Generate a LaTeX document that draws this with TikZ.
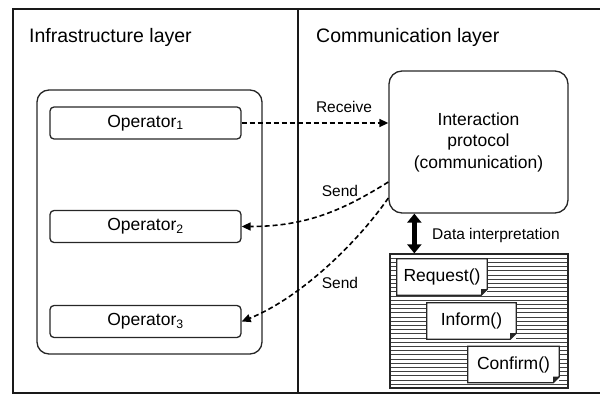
\documentclass[tikz,border=0pt]{standalone}
\usepackage{fontspec}
\setmainfont{Liberation Sans}
\usetikzlibrary{arrows.meta}
\begin{document}
\begin{tikzpicture}[x=1pt,y=-1pt,
  frameline/.style={line width=1.8pt,draw=black!90},
  opbox/.style={draw=black!85,line width=1.3pt,rounded corners=4pt,minimum width=191pt,minimum height=32pt,inner sep=0pt,font=\fontsize{17.5}{20}\selectfont},
  notebox/.style={fill=white,minimum height=36pt,inner sep=0pt,font=\fontsize{17.5}{20}\selectfont},
  lbl/.style={font=\fontsize{15.5}{18}\selectfont,inner sep=0pt},
  ttl/.style={font=\fontsize{19.5}{22}\selectfont,inner sep=0pt,anchor=west},
  dasharrow/.style={line width=1.6pt,dash pattern=on 5pt off 3pt,-{Triangle[length=9pt,width=8pt]}},
  hatchline/.style={line width=0.9pt,draw=black!75}]
\useasboundingbox (0,0) rectangle (600,396);
% layers
\draw[frameline] (602,9) -- (13,9) -- (13,393) -- (602,393);
\draw[frameline] (298,9) -- (298,393);
\node[ttl] (tinf) at (29,37) {Infrastructure layer};
\node[ttl] (tcom) at (316,37) {Communication layer};
% infrastructure container
\node[draw=black!85,line width=1.3pt,rounded corners=12pt,minimum width=225pt,minimum height=264pt] (cont) at (149.5,222) {};
\node[opbox] (op1) at (145.5,123) {Operator\textsubscript{1}};
\node[opbox] (op2) at (145.5,226.5) {Operator\textsubscript{2}};
\node[opbox] (op3) at (145.5,321.5) {Operator\textsubscript{3}};
% interaction protocol
\node[draw=black!85,line width=1.3pt,rounded corners=13pt,minimum width=179pt,minimum height=142pt,align=center,font=\fontsize{17.5}{21.5}\selectfont] (ip) at (478.5,142) {Interaction\\protocol\\(communication)};
% hatched box
\node[draw=black!85,line width=1.3pt,minimum width=178pt,minimum height=134pt,inner sep=0pt] (hb) at (479,321) {};
\foreach \i in {1,...,31}{
  \draw[hatchline] (391,{254+4.2*\i}) -- (567,{254+4.2*\i});
}
\node[notebox,minimum width=90pt] (req) at (442,277) {Request()};
\node[notebox,minimum width=89pt] (inf) at (471.5,321) {Inform()};
\node[notebox,minimum width=91pt] (con) at (513.5,364.5) {Confirm()};
\foreach \n in {req,inf,con}{
  \draw[line width=1.3pt,draw=black!85] (\n.north west) -- (\n.north east) -- ([yshift=6pt]\n.south east) -- ([xshift=-6pt]\n.south east) -- (\n.south west) -- cycle;
  \fill[black!85] ([yshift=6pt]\n.south east) -- ([xshift=-6pt,yshift=6pt]\n.south east) -- ([xshift=-6pt]\n.south east) -- cycle;
}
% data interpretation arrow
\draw[line width=5pt,{Triangle[length=9pt,width=14pt]}-{Triangle[length=9pt,width=14pt]}] ([xshift=26pt]ip.south west) -- ([xshift=25pt]hb.north west);
\node[lbl,anchor=west] (dlab) at (432,235) {Data interpretation};
% messages
\draw[dasharrow] (op1.east) -- (ip.west |- op1.east);
\node[lbl] (lrec) at (344,107) {Receive};
\draw[dasharrow] ([yshift=-40pt]ip.west) .. controls +(-45,28) and +(65,0) .. (op2.east);
\node[lbl] (ls1) at (340,191) {Send};
\draw[dasharrow] ([yshift=-56pt]ip.west) .. controls +(-35,50) and +(55,-22) .. (op3.east);
\node[lbl] (ls2) at (340,283) {Send};
\end{tikzpicture}
\end{document}
